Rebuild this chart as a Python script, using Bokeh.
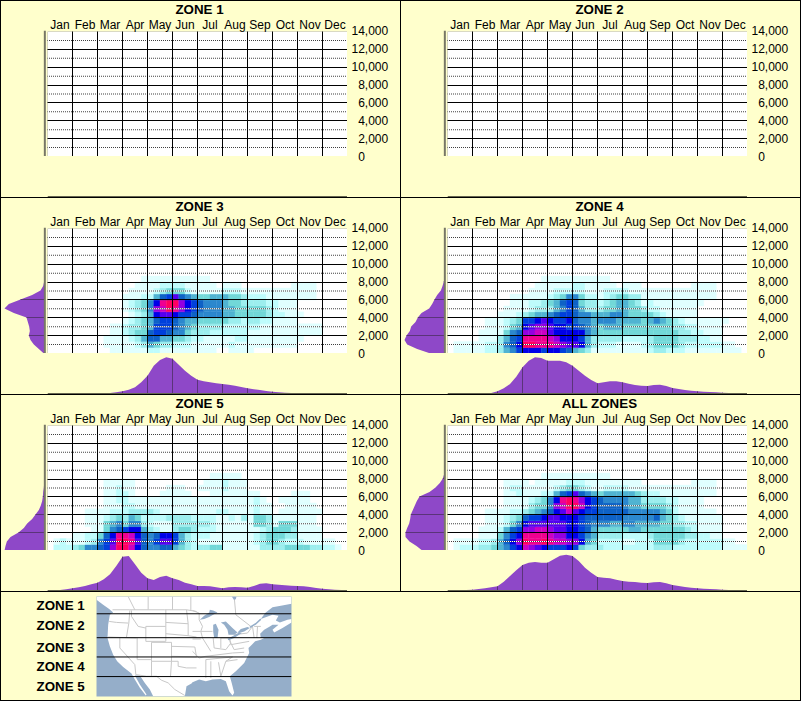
import numpy as np
from bokeh.embed import file_html
from bokeh.resources import INLINE
from bokeh.plotting import figure
from bokeh.layouts import column, row
from bokeh.models import (ColumnDataSource, Range1d, LinearAxis, FixedTicker, Grid, Div,
                          BoxAnnotation, Span)
from bokeh.core.properties import value

MONTHS = ["Jan","Feb","Mar","Apr","May","Jun","Jul","Aug","Sep","Oct","Nov","Dec"]
Y_TICKS = [0,2000,4000,6000,8000,10000,12000,14000]
FONT = "Liberation Sans"
BG = "#FFFFCC"
PURPLE = "#8E48C8"
DARKP = "#5A3478"
LEVELS = ["#FFFFFF","#E0FFFF","#BEFCFC","#9CEEEE","#72D8D8","#50B4D2","#2C88CE","#0E62C6",
          "#0040DC","#0000E8","#5400F0","#9400E0","#CC00C4","#F00090","#FF0060"]

# Heat levels per month block, row 0 at the bottom of the plot, 4 cells a month
zone3_rows = [
"0000 0000 0011 1111 2211 1111 1110 0111 1000",
"0000 0000 0111 1123 5433 2221 1111 1211 1111 1111",
"0000 0000 0111 1235 7755 4432 2111 1122 1111 1111 1000",
"0000 0000 0011 2344 7887 6643 3322 2222 1111 1111 1111",
"0000 0000 0011 2334 5888 7654 3333 2222 2211 1111 1111",
"0000 0000 0000 1234 5788 7655 4444 4332 3322 1111",
"0000 0000 0000 0123 59aa 9887 6666 5544 4443 2211 1000",
"0000 0000 0000 1234 6bce db98 7666 5544 4443 2111",
"0000 0000 0000 1234 69de eb98 7666 5443 3332 2111",
"0000 0000 0000 1112 2578 a765 4455 5443 2221 1111 1110",
"0000 0000 0000 0111 1234 4421 1111 2221 1111 1111 1110",
"0000 0000 0000 0011 1122 2211 1110 1110 0000 0001 1110",
"0000 0000 0000 0001 1111 1111 1100",
]
zone4_rows = [
"0111 1122 3568 9998 9987 5431 1111 1111 2332 2211 1111 1110",
"0111 1122 3679 eedd dcba a953 2221 1112 3444 4322 2222 1100",
"0000 0111 3578 dddd cb99 9853 3333 2222 3444 4333 2211",
"0000 0111 1467 bbcc a999 9965 4444 4444 4444 4332 2111",
"0000 0011 1245 9abb a998 8765 4555 4444 4444 3322 1111",
"0000 0011 1234 889a 9889 7665 6665 5554 5654 3211 1111 1000",
"0000 0000 1112 3455 6788 7665 5566 5444 4321 1111",
"0000 0000 0111 1233 3568 7533 3445 5443 2211 1111",
"0000 0000 0011 1223 4578 7433 2345 5431 2111 1111 1000",
"0000 0000 0011 1111 2346 6422 1234 4331 1111 1111 1110",
"0000 0000 0000 0111 1222 2211 1222 2111 1111 1111 1110",
"0000 0000 0000 0011 1111 2211 1110 1110 0000 0001 1110",
"0000 0000 0000 0001 1111 1111 1100",
]
zone5_rows = [
"0222 3466 78be ec97 6677 5432 3344 1111 1133 3344 4433 2210",
"0121 1123 68ae eda7 68aa 8532 1111 1111 1234 4322 2111 1100",
"0000 1122 479d dc97 6799 8532 2211 1111 1234 4433 1111",
"0000 0001 1467 8995 3211 3443 2221 1111 1123 4443 1111",
"0000 0011 1456 4663 2111 3333 3321 1111 1443 1444 1110",
"0000 0011 1234 3542 2223 3332 2221 1213 1443 1111 1110",
"0000 0011 1122 2333 3211 1111 1112 2111 1211 0111 1111",
"0000 0000 0111 2211 1111 1111 1111 1111 1211 0011 1110",
"0000 0000 0112 2111 1111 1111 1111 1111 1210 0111 1100",
"0000 0000 0112 2100 0011 1110 0011 1111 1100 0001 1100",
"0000 0000 0112 1100 0001 1100 1111 2111",
"0000 0000 0111 1100 0000 0000 0111 2111",
"0000 0000 0000 0000 0000 0000 0011 1110",
]
all_rows = [
"0122 2334 5689 cba9 8889 8433 3222 2222 2333 2222 2222 1111",
"0111 1223 579b edde dccb b954 2222 1122 2444 4322 2222 1100",
"0000 0111 4689 dddd cbb9 9865 3333 2222 3444 4433 2211",
"0000 0111 2578 bbcc baa9 9875 4444 4554 4444 4432 1111",
"0000 0011 1246 9aaa aaa9 9876 6655 6655 5544 3322 1111",
"0000 0011 1234 7889 aa99 9877 7777 6666 6754 3211 1111",
"0000 0011 1122 3456 79ac a988 7777 7666 6654 2111 1110",
"0000 0000 0111 1344 6bce ec98 7777 6554 4443 2111 1000",
"0000 0000 0111 1234 69de db98 7666 6553 3332 2111 1000",
"0000 0000 0112 1112 2578 a765 4555 5543 2211 1111 1110",
"0000 0000 0122 1111 1234 4321 1222 2111 1111 1111 1110",
"0000 0000 0111 1011 1112 2211 1111 1110 0000 0001 1110",
"0000 0000 0000 0001 1111 1111 1100",
]

# Marginal densities: relative height every quarter month, and every 500 ft
zone3_bottom = [0,0,0,0,0,0,0,0, 1,2,3,5, 8,13,20,35, 55,85,102,110, 106,88,70,55, 43,38,35,32, 30,28,25,21, 17,14,12,9, 7,5,4,3, 3,2,2,1, 1,0,0,0, 0]
zone4_bottom = [0,0,1,1, 1,1,2,3, 8,17,30,52, 80,100,110,108, 100,100,100,95, 85,70,55,42, 32,35,38,38, 35,31,27,25, 24,27,28,24, 18,15,12,10, 8,7,6,5, 4,3,2,2, 1]
zone5_bottom = [2,2,3,5, 8,11,15,20, 25,35,50,75, 103,105,80,55, 38,33,42,46, 38,33,25,20, 15,15,14,11, 8,11,12,11, 10,15,22,23, 20,19,17,16, 15,14,12,9, 7,5,4,3, 3]
all_bottom   = [1,1,2,3, 4,6,8,11, 14,28,45,62, 78,85,87,85, 85,95,106,109, 105,90,70,55, 42,40,38,34, 30,28,27,25, 24,26,27,23, 18,15,12,10, 8,7,6,5, 4,3,2,2, 1]
bottom_months = [i * 0.25 for i in range(49)]
zone3_left = [3,18,33,43,48,45,47,51,55,93,121,108,73,38,13,5,2,0,0,0,0]
zone4_left = [43,83,113,121,115,105,101,88,81,70,47,38,31,23,12,7,3,0,0,0,0]
zone5_left = [121,118,114,103,79,63,53,38,28,18,12,8,6,5,3,2,1,0,0,0,0]
all_left   = [68,85,106,118,118,113,107,104,102,96,90,84,76,46,28,15,6,2,0,0,0]
left_feet = [i * 500 for i in range(21)]

PANELS = [("ZONE 1",None,None,None),("ZONE 2",None,None,None),
          ("ZONE 3",zone3_rows,zone3_bottom,zone3_left),
          ("ZONE 4",zone4_rows,zone4_bottom,zone4_left),
          ("ZONE 5",zone5_rows,zone5_bottom,zone5_left),
          ("ALL ZONES",all_rows,all_bottom,all_left)]

def hline(w):
    return Div(text="",width=w,height=1,margin=0,styles={"background-color":"black"})
def vline(h):
    return Div(text="",width=1,height=h,margin=0,styles={"background-color":"black"})

def bare(width, height, xr, yr, **kw):
    p = figure(width=width,height=height,x_range=xr,y_range=yr,x_axis_type=None,y_axis_type=None,title=None,
               toolbar_location=None,output_backend="svg",background_fill_color=BG,border_fill_color=BG,
               min_border_left=0,min_border_right=0,min_border_top=0,min_border_bottom=0,outline_line_color=None,**kw)
    p.xgrid.visible=False; p.ygrid.visible=False
    return p

FRAME_W, FRAME_H = 300, 126          # plot area in screen pixels
DX, DY = 12/FRAME_W, 14000/FRAME_H   # one pixel in data units

def panel(name, rows, bottom, left):
    # title row
    head = bare(300,13,Range1d(0,12),Range1d(0,13))
    head.text(x=[6.08],y=[5],text=[name],text_font=value(FONT),text_font_size="13.33px",text_font_style="bold",
              text_color="black",text_align="center",text_baseline="middle")
    # main plot
    p = figure(width=300,height=142,x_range=Range1d(0,12),y_range=Range1d(0,14000),title=None,
               x_axis_type=None,y_axis_type=None,toolbar_location=None,output_backend="svg",
               background_fill_color="white",border_fill_color=BG,
               min_border_left=0,min_border_right=0,min_border_top=16,min_border_bottom=0,
               outline_line_color=None)
    p.xgrid.visible=False; p.ygrid.visible=False
    ax = LinearAxis(ticker=FixedTicker(ticks=[i+0.5 for i in range(12)]),
                    major_label_overrides={i+0.5:m for i,m in enumerate(MONTHS)},
                    axis_line_color=None,major_tick_line_color=None,minor_tick_line_color=None,
                    major_tick_in=0,major_tick_out=0,
                    major_label_text_font=FONT,major_label_text_font_size="12px",major_label_text_color="black",
                    major_label_standoff=0)
    p.add_layout(ax,"above")
    if rows:
        l,r,b,tp,c=[],[],[],[],[]
        for i,rw in enumerate(rows):
            for j,ch in enumerate(rw.replace(" ","")):
                lv=int(ch,16)
                if lv==0: continue
                l.append(j/4); r.append((j+1)/4); b.append(i*2000/3); tp.append((i+1)*2000/3); c.append(LEVELS[lv])
        p.quad(left="l",right="r",bottom="b",top="t",fill_color="c",line_color="c",line_width=0.4,
               source=ColumnDataSource(dict(l=l,r=r,b=b,t=tp,c=c)))
    odd=[1000+2000*i for i in range(7)]
    # dotted lines: a white line with one dark pixel in two
    p.quad(left=[0]*7,right=[12]*7,top=[v+DY/2 for v in odd],bottom=[v-DY/2 for v in odd],fill_color="white",line_color=None)
    dl,dr,dt,db=[],[],[],[]
    for v in odd:
        for k in range(0,FRAME_W,2):
            dl.append((k-0.5)*DX); dr.append((k+0.5)*DX); dt.append(v+DY/2); db.append(v-DY/2)
    p.quad(left=dl,right=dr,top=dt,bottom=db,fill_color="#404040",line_color=None)
    p.add_layout(Grid(dimension=1,ticker=FixedTicker(ticks=Y_TICKS),grid_line_color="black",level="overlay"))
    p.add_layout(Grid(dimension=0,ticker=FixedTicker(ticks=list(range(13))),grid_line_color="black",level="overlay"))
    p.add_layout(BoxAnnotation(left=0,right=12,bottom=0,top=14000,fill_alpha=0,line_color="black",line_width=1,level="overlay"))

    # right axis in its own narrow figure, so that the lowest label has room
    pr = bare(53,196,Range1d(0,1),Range1d(0,14000))
    pr.min_border_top=29; pr.min_border_bottom=41; pr.min_border_right=52
    ov = {v:("\u00a0\u00a0" if v<10000 else "")+f"{v:,}" for v in Y_TICKS}
    ay = LinearAxis(ticker=FixedTicker(ticks=Y_TICKS),major_label_overrides=ov,
                    axis_line_color=None,major_tick_line_color=None,minor_tick_line_color=None,
                    major_tick_in=0,major_tick_out=0,
                    major_label_text_font=FONT,major_label_text_font_size="12px",major_label_text_color="black",
                    major_label_standoff=3)
    pr.add_layout(ay,"right")

    # left density
    pl = bare(46,155,Range1d(130,-8),Range1d(0,14000))
    pl.min_border_top=29
    if left:
        pl.harea(y=left_feet,x1=[0]*len(left),x2=left,fill_color=PURPLE)
        gy=[2000,4000,6000,8000]
        gv=np.interp(gy,left_feet,left)
        pl.segment(x0=[0]*len(gy),x1=list(gv),y0=gy,y1=gy,line_color=DARKP,line_width=1)
    pl.add_layout(Span(dimension="height",location=0,line_color="#777766",line_width=2))

    # bottom density
    pb = bare(346,41,Range1d(0,12),Range1d(-1.5,121.5))
    pb.min_border_left=46
    if bottom:
        pb.varea(x=bottom_months,y1=[0]*len(bottom),y2=bottom,fill_color=PURPLE)
        gx=list(range(1,12))
        gv=np.interp(gx,bottom_months,bottom)
        pb.segment(x0=gx,x1=gx,y0=[0]*len(gx),y1=list(gv),line_color=DARKP,line_width=1)
    pb.add_layout(Span(dimension="width",location=0,line_color="#666650",line_width=2))
    return row(column(row(pl,column(head,p)),pb),pr)

rows_out=[hline(801)]
for k in range(0,6,2):
    a=panel(*PANELS[k]); b=panel(*PANELS[k+1])
    rows_out.append(row(vline(196),a,vline(196),b,vline(196)))
    rows_out.append(hline(801))

# Legend + map: outlines, in map pixels (x 0-585, y 0-301)
east = 288
coast_east_x=[297,297,265,240,218,205,240,258,250,262,285,297,297,270,245,240,258,240,232,215,203,205,215,205,188,178,168,170,155,130,112,118,125,120,110,100,85,60,40,20,0]
coast_east_y=[0,22,28,32,50,68,55,58,72,78,70,68,78,95,108,100,85,85,90,100,112,125,125,130,135,145,155,170,200,225,240,262,290,298,285,255,248,250,255,250,258]
coast_west_x=[285,270,265,170,160,145,130,115,130,150,148,130,115,105,80,62,50,40,33,35,40,50,38,20,0,0]
coast_west_y=[262,270,300,300,280,260,238,238,265,295,298,275,250,232,212,195,175,150,125,85,55,48,38,25,10,0]
lakes_x=[[22,35,50,52,62,75,62,50,35],[62,70,78,75,65,62],[85,100,120,135,125,108,105,95],[105,110,140,148,125,108],[135,145,165,172,155,140],[118,132,130,124]]
lakes_y=[[70,58,48,40,42,48,55,62,68],[85,82,100,125,125,105],[78,75,95,108,115,115,100,85],[127,125,108,110,125,132],[108,98,92,95,105,110],[0,0,8,10]]
river_x=[172,190,205]
river_y=[93,82,68]
west_lines=[
 ([48,100,155,205,270,300],[40,40,40,40,40,45]),([95,115],[0,40]),([155,155],[0,40]),([228,228],[0,40]),([283,283],[0,42]),
 ([38,60,95],[75,78,80]),([100,97,90],[42,80,122]),([35,120],[122,125]),([105,105,125,148],[42,60,90,95]),
 ([148,208,208,148,148],[90,90,135,135,90]),([165,225,225,165,165],[138,138,195,195,138]),([122,122,165],[125,190,190]),
 ([70,70,115,118],[122,155,205,235]),([165,165],[195,240]),([225,222],[195,240]),([208,208],[40,90]),([208,275],[78,82]),([208,275],[112,118]),
 ([270,275,275,300],[40,82,118,122]),([225,295],[150,152]),([225,300],[180,182]),([295,300],[152,182]),
 ([225,245,245,270,300],[195,195,210,215,215]),([118,150,180,195,215,235,265],[235,240,240,252,260,280,298]),
]
east_lines=[
 ([0,20,20,30,25,60],[42,50,70,90,105,105]),([125,130,175],[0,55,90]),([0,25],[128,128]),([25,30,55],[105,125,165]),
 ([62,65],[125,155]),([85,85],[125,155]),([85,110,115,100],[125,125,140,160]),([20,40,120,155],[185,180,170,168]),
 ([40,120],[190,182]),([40,40],[190,245]),([55,55],[195,245]),([78,85],[198,240]),([100,135],[195,190]),
 ([110,115,170],[125,145,135]),([125,165,180,185],[115,110,90,125]),([185,205],[90,90]),([0,20],[165,185]),([0,25],[105,105]),
 ([115,125,155],[140,160,155]),([65,100],[155,160]),([120,100,85],[182,195,240]),([195,193],[90,125]),
]
all_lines=[(x,y) for x,y in west_lines]+[([v+east for v in x],y) for x,y in east_lines]
zone_lines=[52,124,182,241]
legend_labels=["ZONE 1","ZONE 2","ZONE 3","ZONE 4","ZONE 5"]
legend_y=[14,34,56,75,95]

lf=bare(95,108,Range1d(1,96),Range1d(105,5))
lf.min_border_top=4; lf.min_border_bottom=4
lf.text(x=[36]*5,y=legend_y,text=legend_labels,text_font=value(FONT),text_font_size="13.33px",text_font_style="bold",
        text_color="black",text_align="left",text_baseline="middle")

mp=bare(704,108,Range1d(0,585),Range1d(301,0))
mp.min_border_top=4; mp.min_border_bottom=4; mp.min_border_right=509
OCEAN="#95AEC9"
mp.background_fill_color=OCEAN
mp.patch([v+east for v in coast_east_x]+coast_west_x,coast_east_y+coast_west_y,fill_color="white",line_color=None)
mp.multi_line([x for x,_ in all_lines],[y for _,y in all_lines],line_color="#C8C8C8",line_width=1)
mp.patches([[v+east for v in x] for x in lakes_x],lakes_y,fill_color=OCEAN,line_color=None)
mp.line([v+east for v in river_x],river_y,line_color=OCEAN,line_width=1.5)
mp.segment(x0=[0]*4,x1=[585]*4,y0=zone_lines,y1=zone_lines,line_color="black",line_width=1)

root=column(*rows_out,row(vline(108),lf,mp,vline(108)),hline(801),styles={"background-color":BG})
open("out.html","w").write(file_html(root,INLINE))
